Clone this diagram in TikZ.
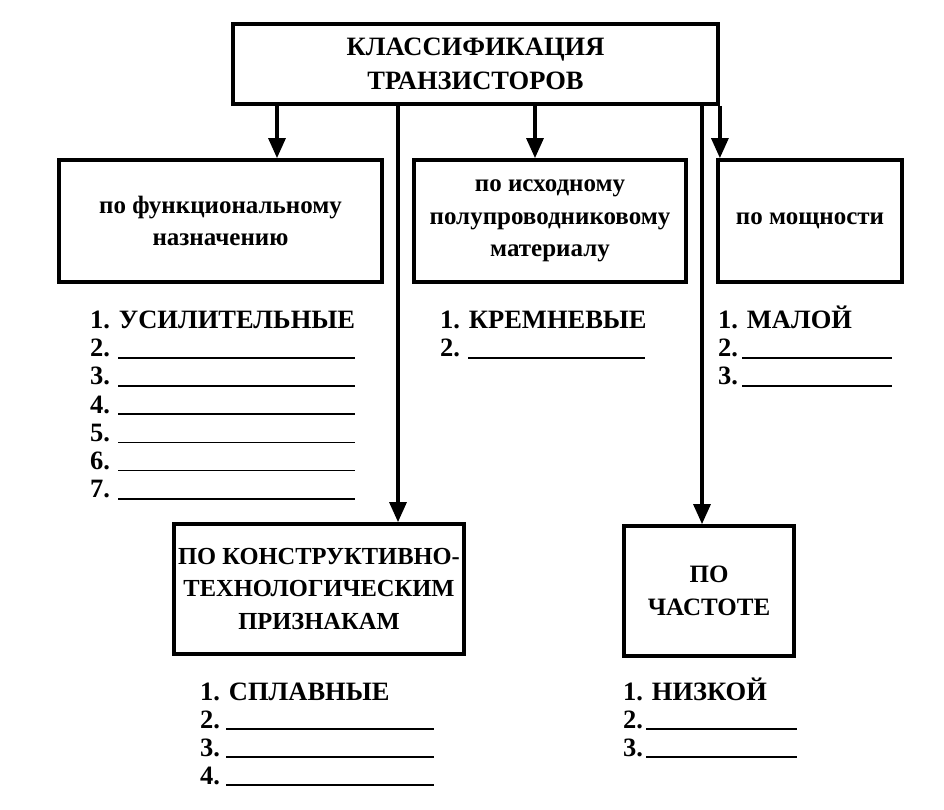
\documentclass[tikz,border=0pt]{standalone}
\usepackage{fontspec}
\setmainfont{Liberation Serif}
\usetikzlibrary{arrows.meta}
\begin{document}
\begin{tikzpicture}[x=1pt,y=-1pt,
  box/.style={draw, line width=3.8pt, inner sep=0pt, align=center,
    font=\bfseries\fontsize{25}{32.5}\selectfont},
  arr/.style={line width=3.2pt, -{Triangle[length=20pt,width=17pt]}},
  item/.style={anchor=base west, inner sep=0pt, font=\bfseries\fontsize{26.5}{30}\selectfont},
  blank/.style={line width=1.6pt}]
\useasboundingbox (0,0) rectangle (944,810);
% boxes
\node[box, minimum width=485pt, minimum height=80pt, font=\bfseries\fontsize{26.5}{34}\selectfont]
  (top) at (475.5,64) {КЛАССИФИКАЦИЯ\\ТРАНЗИСТОРОВ};
\node[box, minimum width=323pt, minimum height=122pt] (fun) at (220.5,221) {по функциональному\\назначению};
\node[box, minimum width=272pt, minimum height=122pt] (mat) at (550,221) {по исходному\\полупроводниковому\\материалу};
\node[box, minimum width=184pt, minimum height=122pt] (pow) at (810,221) {по мощности};
\node[box, minimum width=290pt, minimum height=130pt, font=\bfseries\fontsize{24.5}{32.5}\selectfont]
  (con) at (319,589) {ПО КОНСТРУКТИВНО-\\ТЕХНОЛОГИЧЕСКИМ\\ПРИЗНАКАМ};
\node[box, minimum width=170pt, minimum height=130pt] (fre) at (709,591) {ПО\\ЧАСТОТЕ};
% arrows
\coordinate (a1) at (277,0);
\coordinate (a2) at (398,0);
\coordinate (a3) at (535,0);
\coordinate (a4) at (702,0);
\draw[arr] (top.south -| a1) -- (fun.north -| a1);
\draw[arr] (top.south -| a2) -- (con.north -| a2);
\draw[arr] (top.south -| a3) -- (mat.north -| a3);
\draw[arr] (top.south -| a4) -- (fre.north -| a4);
\draw[arr] (top.south east) -- (pow.north -| top.south east);
% lists
\node[item] (f1) at (90,328.5) {1. УСИЛИТЕЛЬНЫЕ};
\foreach \i in {2,...,7} {
  \pgfmathsetmacro{\yb}{328.5+28.2*(\i-1)}
  \node[item] (f\i) at (90,\yb) {\i.};
  \draw[blank] ([xshift=8pt,yshift=-1pt]f\i.base east) -- (355,\yb+1);
}
\node[item] (m1) at (440,328.5) {1. КРЕМНЕВЫЕ};
\node[item] (m2) at (440,356.7) {2.};
\draw[blank] ([xshift=8pt,yshift=-1pt]m2.base east) -- (645,357.7);
\node[item] (p1) at (718,328.5) {1. МАЛОЙ};
\foreach \i in {2,3} {
  \pgfmathsetmacro{\yb}{328.5+28.2*(\i-1)}
  \node[item] (p\i) at (718,\yb) {\i.};
  \draw[blank] ([xshift=4pt,yshift=-1pt]p\i.base east) -- (892,\yb+1);
}
\node[item] (c1) at (200,700) {1. СПЛАВНЫЕ};
\foreach \i in {2,3,4} {
  \pgfmathsetmacro{\yb}{700+28*(\i-1)}
  \node[item] (c\i) at (200,\yb) {\i.};
  \draw[blank] ([xshift=6pt,yshift=-1pt]c\i.base east) -- (434,\yb+1);
}
\node[item] (q1) at (623,700) {1. НИЗКОЙ};
\foreach \i in {2,3} {
  \pgfmathsetmacro{\yb}{700+28*(\i-1)}
  \node[item] (q\i) at (623,\yb) {\i.};
  \draw[blank] ([xshift=3pt,yshift=-1pt]q\i.base east) -- (797,\yb+1);
}
\end{tikzpicture}
\end{document}
